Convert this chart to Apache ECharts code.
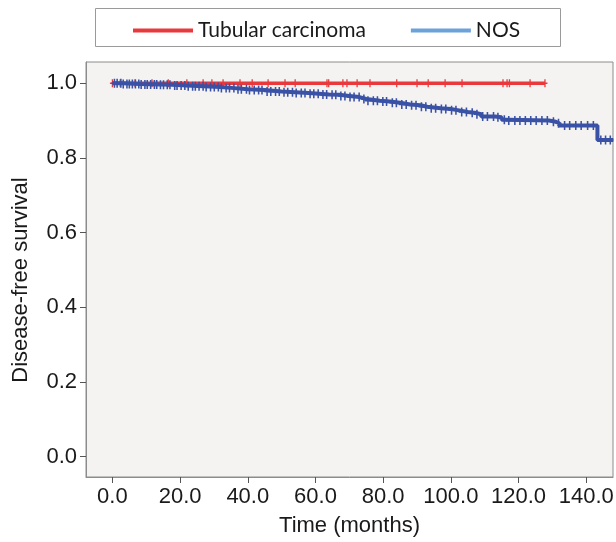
<!DOCTYPE html>
<html>
<head>
<meta charset="utf-8">
<script src="https://cdn.jsdelivr.net/npm/echarts@6/dist/echarts.min.js"></script>
<style>
html,body{margin:0;padding:0;background:#fff;}
#chart{width:616px;height:542px;}
</style>
</head>
<body>
<div id="chart"></div>
<script>
// ---- data ----
var seriesNames = ['Tubular carcinoma', 'NOS'];
var xTicks = [0, 20, 40, 60, 80, 100, 120, 140];
var yTicks = [0, 0.2, 0.4, 0.6, 0.8, 1.0];
var xTitle = 'Time (months)';
var yTitle = 'Disease-free survival';

// Tubular carcinoma: Kaplan-Meier steps (time, survival)
var tubTimes = [0, 127.8];
var tubSurv  = [1.0, 1.0];
var tubCensor = [0, 2.3, 6.7, 11.7, 16.5, 22.0, 26.8, 29.4, 32.7, 37.7, 41.3, 46.0, 51.0, 54.0,
                 63.4, 63.9, 68.1, 69.3, 72.3, 76.1, 84.0, 90.0, 93.3, 98.3, 103.3,
                 115.4, 116.6, 117.3, 123.4, 127.8];

// NOS: Kaplan-Meier steps (time, survival)
var nosTimes = [0, 3, 8, 14, 18, 22, 27, 32, 36, 40, 45, 50, 54, 58, 61, 64, 67, 70, 73, 75,
                79, 82, 85, 88, 91, 93, 97, 100, 102, 105, 107, 109, 113, 115, 117, 129, 131, 132, 143.3, 148];
var nosSurv  = [1.000, 0.998, 0.997, 0.996, 0.994, 0.992, 0.990, 0.987, 0.984, 0.982, 0.978, 0.976,
                0.974, 0.972, 0.970, 0.969, 0.966, 0.963, 0.958, 0.953, 0.951, 0.948, 0.943, 0.941,
                0.937, 0.933, 0.931, 0.928, 0.923, 0.921, 0.917, 0.911, 0.909, 0.902, 0.900, 0.897,
                0.893, 0.887, 0.848, 0.848];
var nosCensor = [0.6, 1.4, 2.5, 3.2, 4.3, 5.0, 5.9, 6.8, 7.8, 8.5, 9.6, 10.3, 11.3, 12.4, 13.1, 14.2,
                 15.1, 16.2, 17.0, 18.4, 19.1, 20.3, 21.4, 22.4, 23.7, 24.5, 25.6, 26.8, 27.7, 29.0,
                 30.1, 31.3, 32.2, 33.6, 34.6, 35.9, 37.1, 38.1, 39.6, 40.5, 41.9, 43.2, 44.2, 45.7,
                 46.8, 48.2, 49.3, 50.7, 51.8, 53.2, 54.3, 55.8, 56.9, 58.4, 59.5, 60.8, 62.2, 63.3,
                 64.9, 66.0, 67.5, 68.7, 70.2, 71.4, 72.9, 74.3, 75.5, 77.1, 78.3, 79.9, 81.0, 82.7,
                 83.9, 85.5, 86.8, 88.4, 89.7, 91.3, 92.6, 94.2, 95.5, 97.2, 98.5, 100.2, 101.5, 103.2,
                 104.6, 106.3, 107.7, 109.4, 110.8, 112.6, 113.9, 115.8, 117.1, 118.9, 120.4, 122.0,
                 123.6, 125.2, 126.9, 128.5, 130.3, 131.8, 133.6, 135.1, 136.9, 138.5, 140.4, 142.1,
                 144.3, 145.7, 147.1];

// ---- build ----
function stepData(ts, ss) { return ts.map(function (t, i) { return [t, ss[i]]; }); }
function survAt(ts, ss, t) {
  var v = ss[0];
  for (var i = 0; i < ts.length; i++) { if (ts[i] <= t) v = ss[i]; }
  return v;
}
function censorData(cs, ts, ss) { return cs.map(function (t) { return [t, survAt(ts, ss, t)]; }); }

var RED = '#e9393d', BLUE = '#3a52a6', BLUE_LEG = '#6ba2da';
var PLUS = 'path://M2,0h1.4v3.3h2v1.4h-2v3.3h-1.4v-3.3h-2v-1.4h2z';
var FONT = '"Liberation Sans", Arial, sans-serif';

var chart = echarts.init(document.getElementById('chart'), null, { renderer: 'canvas' });
chart.setOption({
  animation: false,
  backgroundColor: '#ffffff',
  graphic: [{
    type: 'rect', left: 95, top: 8, z: 0,
    shape: { width: 465, height: 38 },
    style: { fill: '#ffffff', stroke: '#9a9a9a', lineWidth: 1 }
  }, {
    type: 'text', x: 21, y: 280, rotation: Math.PI / 2, z: 5,
    style: {
      text: yTitle, fontFamily: FONT, fontSize: 22, fill: '#1a1a1a',
      align: 'center', verticalAlign: 'middle'
    }
  }],
  legend: {
    data: [
      { name: seriesNames[0], itemStyle: { color: RED } },
      { name: seriesNames[1], itemStyle: { color: BLUE_LEG } }
    ],
    left: 133, top: 20, padding: 0,
    icon: 'rect', itemWidth: 60, itemHeight: 4, itemGap: 45,
    textStyle: { fontFamily: 'Lato, "Open Sans", sans-serif', fontSize: 21, color: '#1a1a1a' },
    selectedMode: false, z: 5
  },
  grid: {
    left: 86, right: 3, top: 62, bottom: 65,
    outerBoundsMode: 'none', containLabel: false,
    show: true, backgroundColor: '#f4f3f1', borderColor: '#8c8c8c', borderWidth: 1
  },
  xAxis: {
    type: 'value', min: -7.8, max: 147.9,
    name: xTitle, nameLocation: 'middle', nameGap: 38,
    nameTextStyle: { fontFamily: FONT, fontSize: 22, color: '#1a1a1a' },
    axisLine: { show: true, onZero: false, lineStyle: { color: '#8c8c8c', width: 1 } },
    axisTick: { show: true, length: 6, customValues: xTicks, lineStyle: { color: '#555' } },
    axisLabel: {
      customValues: xTicks, margin: 9, fontFamily: FONT, fontSize: 22, color: '#1a1a1a',
      formatter: function (v) { return v.toFixed(1); }
    },
    splitLine: { show: false }
  },
  yAxis: {
    type: 'value', min: -0.055, max: 1.057,
    axisLine: { show: true, onZero: false, lineStyle: { color: '#8c8c8c', width: 1 } },
    axisTick: { show: true, length: 6, customValues: yTicks, lineStyle: { color: '#555' } },
    axisLabel: {
      customValues: yTicks, margin: 9, fontFamily: FONT, fontSize: 22, color: '#1a1a1a',
      formatter: function (v) { return v.toFixed(1); }
    },
    splitLine: { show: false }
  },
  series: [
    {
      name: seriesNames[0], type: 'line', step: 'end', showSymbol: false,
      data: stepData(tubTimes, tubSurv),
      lineStyle: { color: RED, width: 3.5 }, itemStyle: { color: RED }, z: 2
    },
    {
      name: 'tubCensor', type: 'scatter', symbol: PLUS, symbolSize: [5, 8],
      data: censorData(tubCensor, tubTimes, tubSurv),
      itemStyle: { color: RED, opacity: 1 }, z: 2
    },
    {
      name: seriesNames[1], type: 'line', step: 'end', showSymbol: false,
      data: stepData(nosTimes, nosSurv),
      lineStyle: { color: BLUE, width: 4 }, itemStyle: { color: BLUE_LEG }, z: 3
    },
    {
      name: 'nosCensor', type: 'scatter', symbol: PLUS, symbolSize: [6, 9],
      data: censorData(nosCensor, nosTimes, nosSurv),
      itemStyle: { color: BLUE, opacity: 1 }, z: 3
    }
  ]
});
</script>
</body>
</html>
